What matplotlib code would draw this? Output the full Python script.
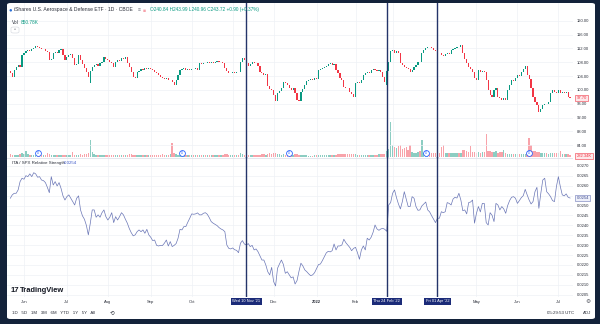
import numpy as np
import pandas as pd
import matplotlib.pyplot as plt
from matplotlib.patches import FancyBboxPatch

plt.rcParams['font.family'] = ['Liberation Sans', 'Noto Sans CJK SC', 'DejaVu Sans']

# NYSE closures inside the range
holidays = ['2021-05-31', '2021-07-05', '2021-09-06', '2021-11-25', '2021-12-24',
            '2022-01-17', '2022-02-21', '2022-04-15', '2022-05-30', '2022-06-20',
            '2022-07-04']
dates = pd.bdate_range('2021-05-20', '2022-07-12', freq='C', holidays=holidays)

# ITA daily closes
close = [
    105.0, 103.6, 105.8, 106.5, 107.2, 106.6, 110.1,
    110.8, 111.1, 111.5, 111.2, 111.8, 112.0, 112.7, 112.3, 112.0, 111.7, 111.9, 111.2, 110.9, 108.7,
    108.9, 110.6, 111.0, 110.8, 111.6, 111.8, 110.0, 108.7,
    109.5, 110.1, 110.3, 109.1, 107.2, 107.6, 110.1, 108.7, 107.4, 106.3, 105.3, 103.6, 105.6, 106.6,
    107.2, 107.4, 107.0, 107.8, 108.2, 109.6, 109.0,
    108.7, 108.0, 107.7, 106.7, 108.2, 108.6, 108.3, 109.1, 108.8, 109.4, 107.7, 106.6, 105.2, 103.8,
    103.3, 105.3, 105.6, 106.0, 105.8, 106.2, 106.0, 106.2,
    105.9, 105.7, 105.3, 104.8, 104.3, 103.8, 103.5, 103.1, 103.3, 102.8, 102.9, 102.2, 101.4, 102.8,
    104.2, 105.7, 105.9, 106.2, 105.8, 106.0, 105.7,
    106.1, 105.9, 106.2, 105.7, 107.7, 107.5, 107.9, 107.7, 108.0, 107.8, 108.2, 107.9, 108.1, 108.4,
    108.0, 108.2, 107.9, 106.2, 105.5, 104.8, 104.9,
    105.2, 104.9, 105.3, 105.1, 108.2, 109.1, 108.6, 107.7, 107.0, 107.4, 108.2, 107.9, 107.7, 107.0,
    105.3, 104.9, 104.3, 104.6, 101.0, 100.3, 99.9,
    98.5, 96.8, 99.0, 99.8, 100.4, 102.4, 102.0, 101.4, 100.6, 99.9, 100.4, 99.0, 97.2, 96.8,
    99.5, 100.3, 101.4, 102.6, 102.9, 103.1, 102.8, 103.3,
    103.1, 105.7, 106.0, 106.2, 106.7, 107.0, 107.4, 107.7, 107.3, 107.6, 105.7, 104.8, 103.5, 102.8,
    100.9, 100.6, 100.4, 99.5, 98.9, 98.0,
    101.9, 102.3, 102.0, 102.8, 104.4, 104.8, 105.3, 105.0, 105.7, 106.0, 105.7, 105.4, 105.8, 105.3,
    103.8, 102.3, 105.5, 108.0, 111.3,
    111.6, 110.8, 111.2, 110.6, 107.7, 107.2, 106.7, 106.2, 105.9, 105.3, 105.8, 106.7, 107.3, 108.2,
    108.0, 110.8, 111.6, 112.0, 112.5, 112.3, 112.0, 111.4, 111.1,
    110.8, 110.6, 110.1, 109.9, 110.4, 110.6, 110.3, 111.6, 111.9, 112.1, 112.5, 112.3, 113.0, 110.6,
    108.8, 107.7, 106.7, 105.9, 105.3, 103.3,
    102.8, 105.7, 105.3, 105.6, 105.3, 102.8, 100.0, 98.5, 97.8, 99.9, 100.4, 98.0, 97.5, 97.0,
    97.6, 97.2, 99.9, 101.4, 102.8, 102.5, 103.4,
    104.3, 103.9, 105.3, 106.0, 106.9, 104.3, 103.2, 100.4, 98.0, 96.5, 95.6, 93.6, 94.4, 95.6,
    96.0, 95.8, 96.5, 99.0, 99.9, 99.3, 99.0,
    99.9, 99.2, 99.5, 99.0, 99.5, 98.0, 97.7,
]
first_open = 105.6
gap_opens = {'2021-07-20': 102.0, '2022-02-24': 101.5}

# daily volume, thousands of shares
volume_k = [
    310, 240, 260, 280, 220, 340, 430,
    380, 650, 330, 290, 270, 300, 260, 250, 240, 250, 270, 290, 420, 310, 280, 260, 240, 230, 250, 220, 240, 260,
    230, 220, 240, 520, 300, 260, 280, 320, 300, 350, 400, 450, 1750, 600, 380, 300, 270, 260, 280, 250, 240,
    230, 240, 250, 260, 230, 220, 240, 210, 230, 250, 300, 350, 330, 280, 260, 250, 240, 220, 230, 210, 250, 260,
    240, 250, 260, 270, 280, 300, 320, 300, 280, 300, 350, 1500, 420, 380, 300, 280, 260, 250, 270, 240, 230,
    230, 220, 240, 210, 260, 240, 230, 220, 250, 230, 240, 220, 260, 230, 250, 240, 300, 380, 350, 300, 280,
    270, 260, 250, 240, 420, 350, 300, 280, 260, 250, 240, 230, 250, 280, 300, 350, 320, 300, 380, 420, 400,
    450, 420, 380, 350, 300, 320, 300, 280, 260, 250, 300, 350, 330, 300, 280, 260, 240, 220, 200, 180, 200, 210,
    250, 300, 280, 260, 240, 250, 230, 240, 260, 280, 300, 320, 350, 400, 380, 350, 330, 360, 380, 350,
    320, 300, 280, 260, 300, 280, 260, 250, 240, 260, 280, 300, 320, 350, 380, 400, 700, 900, 3600,
    1300, 1100, 1000, 1200, 1250, 900, 1000, 1100, 800, 1300, 600, 500, 450, 600, 700, 1800, 500, 450, 420,
    400, 450, 420, 500,
    500, 450, 1100, 1300, 500, 450, 420, 480, 450, 500, 420, 460, 450, 750, 800, 700, 550, 1200, 600, 550,
    500, 520, 480, 550, 600, 2400, 700, 650, 600, 550, 650, 500, 550, 600, 800, 450, 400, 380, 400, 350, 380,
    380, 350, 400, 380, 360, 400, 2000, 1300, 700, 650, 550, 600, 500, 450, 420, 480, 400, 450, 420, 460, 450,
    420, 700, 400, 380, 350, 330, 282.34,
]

# ITA / SPX ratio, in units of 1e-4
rs_e4 = [
    253.7, 255.4, 256.2, 256.2, 257.9, 262.1, 263.8,
    263.3, 265.1, 264.6, 266.0, 264.6, 266.6, 266.0, 264.3, 264.6, 262.9, 262.6, 261.6, 259.2, 256.5,
    264.6, 260.4, 262.1, 259.9, 261.6, 258.7, 254.9, 252.8,
    254.5, 255.4, 253.7, 252.0, 250.3, 253.7, 254.9, 247.8, 244.8, 243.1, 240.0, 235.2, 241.0, 247.8,
    247.8, 244.1, 245.3, 244.1, 246.4, 247.8, 244.4,
    242.7, 244.1, 246.4, 241.4, 244.4, 242.7, 244.4, 246.4, 245.3, 243.1, 241.1, 238.4, 236.3, 234.7,
    235.2, 236.8, 237.7, 236.8, 237.7, 236.0, 238.0, 235.2,
    234.0, 232.3, 232.6, 229.9, 229.6, 229.9, 229.8, 231.0, 232.6, 229.6, 231.8, 229.3, 229.9, 230.8,
    233.5, 238.0, 237.7, 239.4, 239.4, 241.6, 243.6,
    245.8, 245.6, 245.8, 246.3, 245.3, 245.3, 246.1, 246.4, 245.6, 243.9, 241.9, 241.1, 240.5, 239.9,
    238.9, 238.2, 237.7, 236.8, 230.1, 228.4, 228.1,
    228.6, 227.7, 227.4, 226.2, 231.0, 232.3, 230.6, 230.1, 230.8, 229.3, 229.9, 227.6, 228.1, 226.7,
    224.6, 222.5, 222.5, 220.0, 216.6, 215.0, 218.8,
    211.6, 209.4, 218.3, 220.5, 222.5, 220.3, 215.8, 216.6, 215.0, 213.5, 214.0, 210.4, 212.1, 216.8,
    220.9, 219.5, 217.5, 216.6, 215.5, 214.6, 215.0, 216.1,
    218.2, 220.2, 220.5, 222.2, 224.2, 226.1, 226.9, 226.6, 227.2, 230.6, 227.6, 229.6, 229.6, 230.1,
    233.0, 231.3, 230.1, 228.9, 227.2, 228.4,
    228.9, 226.2, 222.9, 227.6, 229.6, 227.6, 233.5, 232.6, 234.0, 236.5, 240.2, 238.2, 237.5, 238.2,
    238.5, 238.0, 237.0, 250.3, 251.5,
    256.2, 257.9, 254.0, 250.8, 248.3, 252.0, 257.0, 253.2, 249.5, 249.5, 254.5, 253.7, 249.5, 247.6,
    247.8, 249.8, 250.8, 251.8, 247.8, 246.8, 244.9, 243.2, 241.4,
    243.6, 243.6, 246.9, 246.4, 246.9, 251.5, 251.1, 250.3, 253.3, 254.2, 253.8, 256.2, 252.8, 247.4,
    247.8, 245.8, 251.5, 251.8, 252.8, 241.1,
    246.1, 249.5, 246.8, 251.1, 251.1, 241.4, 240.2, 246.4, 245.1, 241.9, 251.1, 250.3, 247.8, 249.5,
    248.3, 246.1, 250.0, 252.5, 254.2, 254.5, 253.7,
    251.1, 252.5, 254.0, 255.0, 258.2, 255.4, 252.8, 250.8, 252.0, 257.0, 259.2, 248.6, 256.2, 262.9,
    263.8, 257.0, 255.9, 254.5, 252.5, 252.0, 259.6,
    264.6, 259.6, 255.4, 254.9, 255.9, 254.2, 253.8,
]

dividend_dates = ['2021-06-10', '2021-09-24', '2021-12-13', '2022-03-24', '2022-06-09']
event_dates = ['2021-11-10', '2022-02-24', '2022-04-01']
event_labels = ["Wed 10 Nov '21", "Thu 24 Feb '22", "Fri 01 Apr '22"]
price_ticks = [84, 88, 92, 96, 100, 104, 108, 112, 116, 120]
rs_ticks = [0.0205, 0.0210, 0.0215, 0.0220, 0.0225, 0.0230, 0.0235, 0.0240,
            0.0245, 0.0250, 0.0255, 0.0260, 0.0265, 0.0270]

close = np.array(close)
volume_k = np.array(volume_k)
rs = np.array(rs_e4) / 1e4
x = np.arange(len(dates))

opens = np.r_[first_open, close[:-1]]
for d, o in gap_opens.items():
    opens[dates.get_loc(pd.Timestamp(d))] = o
up = close >= opens

UP, DN = '#089981', '#f23645'
VUP, VDN = '#8ccdc2', '#f8a3aa'
GRID = '#eef1f6'
NAVY = '#24346a'
TXT = '#2a2e39'

W, H = 600, 324
fig = plt.figure(figsize=(W / 100, H / 100), dpi=100)
fig.patch.set_facecolor('#13223a')


def fx(px):
    return px / W


def fy(py):
    return 1 - py / H


# white chart card
card = FancyBboxPatch((fx(7), fy(319)), fx(588), 316 / H, boxstyle='round,pad=0,rounding_size=0.006',
                      transform=fig.transFigure, facecolor='white', edgecolor='none', zorder=0)
fig.add_artist(card)

L, R = 7, 573
PT, PB, RB = 3, 157.5, 297
xlim = (-1.7, 288.5)

ax = fig.add_axes([fx(L), fy(PB), (R - L) / W, (PB - PT) / H])
axv = ax.twinx()
axr = fig.add_axes([fx(L), fy(RB), (R - L) / W, (RB - PB) / H])

event_idx = [dates.get_loc(pd.Timestamp(d)) for d in event_dates]

# month ticks; the ones under a marked-date flag stay unlabelled
month_pos = [i for i in range(1, len(dates)) if dates[i].month != dates[i - 1].month]
month_lab = []
for i in month_pos:
    if min(abs(i - e) for e in event_idx) < 10:
        month_lab.append('')
    else:
        month_lab.append('2022' if dates[i].month == 1 else dates[i].strftime('%b'))

for a in (ax, axv, axr):
    a.set_xlim(*xlim)
    for s in a.spines.values():
        s.set_visible(False)

# volume behind the candles
axv.bar(x, volume_k, width=0.72, color=np.where(up, VUP, VDN), linewidth=0)
axv.set_ylim(0, (PB - PT) * 100)
axv.set_yticks([])
ax.set_zorder(axv.get_zorder() + 1)
ax.patch.set_visible(False)

body = np.maximum(np.abs(close - opens), 0.12)
ax.bar(x, body, bottom=np.minimum(close, opens), width=0.6,
       color=np.where(up, UP, DN), linewidth=0, zorder=3)
ax.set_ylim(80.43, 125.13)
ax.set_yticks(price_ticks)
ax.set_yticklabels([f'{t:.2f}' for t in price_ticks])
ax.set_xticks(month_pos)
ax.tick_params(axis='y', left=False, right=True, labelleft=False, labelright=True,
               length=0, pad=3, labelsize=3.0, labelcolor=TXT)
ax.tick_params(axis='x', bottom=False, labelbottom=False, length=0)
ax.grid(color=GRID, lw=0.5)

# dividend markers
trans = ax.get_xaxis_transform()
for d in dividend_dates:
    i = dates.get_loc(pd.Timestamp(d))
    ax.plot(i, 0.028, 'o', ms=4.2, mfc='white', mec='#2962ff', mew=0.6, transform=trans,
            clip_on=False, zorder=6)
    ax.text(i, 0.028, 'D', fontsize=2.2, color='#2962ff', ha='center', va='center',
            transform=trans, zorder=7)

# relative strength pane
axr.plot(x, rs, color='#6a76b6', lw=0.5)
axr.set_ylim(0.020383, 0.027427)
axr.set_yticks(rs_ticks)
# the tick hidden behind the last-value flag stays blank
axr.set_yticklabels(['' if abs(t - rs[-1]) < 0.0003 else f'{t:.4f}' for t in rs_ticks])
axr.set_xticks(month_pos)
axr.set_xticklabels(month_lab)
for lbl in axr.get_xticklabels():
    if lbl.get_text() == '2022':
        lbl.set_fontweight('bold')
axr.tick_params(axis='y', left=False, right=True, labelleft=False, labelright=True,
                length=0, pad=3, labelsize=3.0, labelcolor=TXT)
axr.tick_params(axis='x', length=0, pad=2.2, labelsize=3.0, labelcolor=TXT)
axr.grid(color=GRID, lw=0.5)
axr.axhline(axr.get_ylim()[1], color='#e0e3eb', lw=0.6)

# marked dates
for i, lab in zip(event_idx, event_labels):
    ax.axvline(i, color=NAVY, lw=1.0, zorder=8)
    axr.axvline(i, color=NAVY, lw=1.0, zorder=8)
    axr.text(i, -0.03, lab, transform=axr.get_xaxis_transform(), ha='center', va='center',
             fontsize=2.9, color='white', zorder=10, clip_on=False,
             bbox=dict(boxstyle='square,pad=0.35', fc='#1b2b78', ec='none'))

# last values on the scales
ax.text(1.006, close[-1], f'{close[-1]:.2f}', transform=ax.get_yaxis_transform(), fontsize=3.0,
        color=DN, va='center', ha='left', clip_on=False,
        bbox=dict(boxstyle='square,pad=0.25', fc='#fde8ea', ec=DN, lw=0.4))
ax.text(1.006, 0.012, f'{volume_k[-1]:.2f}K', transform=ax.transAxes, fontsize=3.0,
        color=DN, va='center', ha='left', clip_on=False,
        bbox=dict(boxstyle='square,pad=0.25', fc='#fde8ea', ec=DN, lw=0.4))
axr.text(1.006, rs[-1], f'{rs[-1]:.4f}', transform=axr.get_yaxis_transform(), fontsize=3.0,
         color='#3d4a8c', va='center', ha='left', clip_on=False,
         bbox=dict(boxstyle='square,pad=0.25', fc='#eef0fa', ec='#6a76b6', lw=0.4))

# legends and header
fig.text(fx(8.5), fy(10), '●', fontsize=4.2, color='#2a6fd6', va='center')
fig.text(fx(14), fy(10), 'iShares U.S. Aerospace & Defense ETF · 1D · CBOE', fontsize=3.6,
         color=TXT, va='center')
fig.text(fx(138), fy(10), '≡', fontsize=3.6, color='#787b86', va='center')
fig.text(fx(143), fy(10), '■', fontsize=3.6, color='#f7a1aa', va='center')
fig.text(fx(150), fy(10), 'O240.84 H243.99 L240.96 C243.72 +0.90 (+0.37%)', fontsize=3.4,
         color=UP, va='center')
fig.text(fx(12), fy(22), 'Vol', fontsize=3.4, color=TXT, va='center')
fig.text(fx(21), fy(22), '850.78K', fontsize=3.4, color=UP, va='center')
fig.add_artist(FancyBboxPatch((fx(11), fy(33)), fx(8), 6 / H, boxstyle='round,pad=0,rounding_size=0.004',
                              transform=fig.transFigure, fc='white', ec='#d1d4dc', lw=0.4))
fig.text(fx(15), fy(30.5), '^', fontsize=3.2, color='#50535e', ha='center', va='center')

fig.text(fx(12), fy(163), 'ITA / SPX Relative Strength', fontsize=3.2, color=TXT, va='center')
fig.text(fx(64), fy(163), f'{rs[-1]:.4f}', fontsize=3.2, color='#3d59c9', va='center')

fig.text(fx(11), fy(291), '17', fontsize=5.6, fontweight='heavy', color='#131722', va='center')
fig.text(fx(20), fy(291), 'TradingView', fontsize=5.4, fontweight='bold', color='#131722', va='center')

fig.text(fx(12), fy(313), '1D   5D   1M   3M   6M   YTD   1Y   5Y   All', fontsize=3.2,
         color=TXT, va='center')
fig.text(fx(110), fy(313), '⟲', fontsize=4.0, color=TXT, va='center')
fig.text(fx(547), fy(313), '05:29:53 UTC', fontsize=3.2, color=TXT, va='center')
fig.text(fx(583), fy(313), 'ADJ', fontsize=3.2, color=TXT, va='center')
fig.text(fx(585), fy(301.5), '⚙', fontsize=4.2, color='#50535e', va='center', family='DejaVu Sans')

fig.savefig('out.png', dpi=100, facecolor=fig.get_facecolor())
